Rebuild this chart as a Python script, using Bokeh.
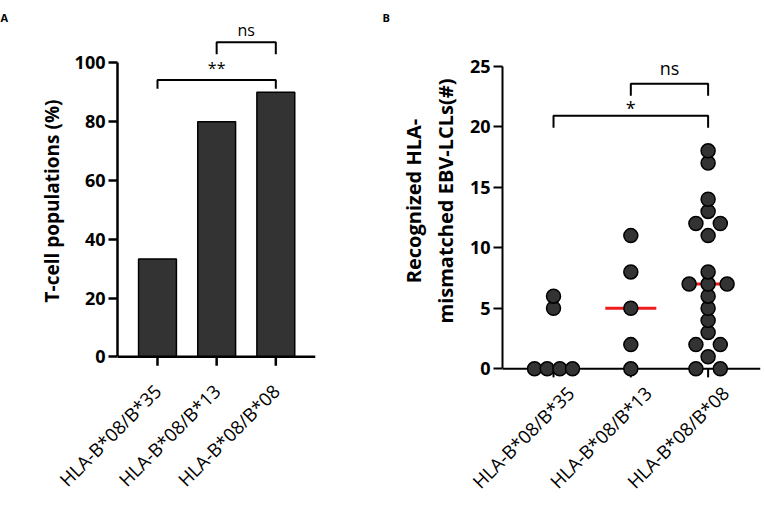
import numpy as np
from math import pi
from bokeh.plotting import figure
from bokeh.layouts import row
from bokeh.models import FixedTicker, Range1d, Span, LinearAxis
from bokeh.embed import file_html
from bokeh.resources import INLINE

# ---------------- data ----------------
categories = ["HLA-B*08/B*35", "HLA-B*08/B*13", "HLA-B*08/B*08"]
tcell_pct = [33.3, 80.0, 90.0]
lcl_b35 = [0, 0, 0, 0, 5, 6]
lcl_b13 = [0, 2, 5, 8, 11]
lcl_b08 = [0, 0, 1, 2, 2, 3, 4, 5, 6, 7, 7, 7, 8, 11, 12, 12, 13, 14, 17, 18]
ticks_a = [0, 20, 40, 60, 80, 100]
ticks_b = [0, 5, 10, 15, 20, 25]
# (from group, to group, label, bracket level, leg drop)
brackets_a = [(0, 2, "**", 94.2, 3.0), (1, 2, "ns", 107.0, 4.1)]
brackets_b = [(0, 2, "*", 20.9, 1.0), (1, 2, "ns", 23.55, 1.0)]

FONT = "Open Sans"
DARK = "#333333"
H = 505
TOP = 24          # frame top (px from figure top)
BOTTOM = 378      # frame bottom (px from figure top), same for both panels
LABEL_PX = "18.5px"


def make_fig(width, left, right, x0, ppu_x, zero_px, ppu_y, yticks, ybound,
             letter, letter_offset, label_shift_px):
    frame_w = width - left - right
    frame_h = BOTTOM - TOP
    y_end = (zero_px - TOP) / ppu_y
    x1 = x0 + frame_w / ppu_x
    p = figure(width=width, height=H, output_backend="svg",
               toolbar_location=None, x_axis_location=None,
               x_range=Range1d(x0, x1),
               y_range=Range1d(y_end - frame_h / ppu_y, y_end),
               min_border_left=left, min_border_right=right,
               min_border_top=TOP, min_border_bottom=H - BOTTOM)
    p.outline_line_color = None
    p.xgrid.grid_line_color = None
    p.ygrid.grid_line_color = None
    p.background_fill_color = "white"
    p.border_fill_color = "white"
    # panel letter
    p.title.text = letter
    p.title.align = "left"
    p.title.offset = letter_offset
    p.title.standoff = 0
    p.title.text_font = FONT
    p.title.text_font_style = "bold"
    p.title.text_font_size = "11px"
    p.title.text_color = "black"
    # y axis
    ya = p.yaxis[0]
    ya.ticker = FixedTicker(ticks=yticks)
    ya.bounds = ybound
    ya.minor_tick_line_color = None
    ya.major_tick_out = 9
    ya.major_tick_in = 0
    ya.major_label_text_font = FONT
    ya.major_label_text_font_style = "bold"
    ya.major_label_text_font_size = "18px"
    ya.major_label_text_color = "black"
    ya.major_label_standoff = 3
    ya.axis_label_text_font = FONT
    ya.axis_label_text_font_style = "bold"
    ya.axis_label_text_color = "black"
    # category axis (labels only); its range may be shifted so the labels
    # sit where the reference puts them
    shift = label_shift_px / ppu_x
    p.extra_x_ranges = {"lbl": Range1d(x0 - shift, x1 - shift)}
    xa = LinearAxis(x_range_name="lbl")
    xa.ticker = FixedTicker(ticks=[0, 1, 2])
    xa.major_label_overrides = {i: c for i, c in enumerate(categories)}
    xa.axis_line_color = None
    xa.major_tick_line_color = None
    xa.minor_tick_line_color = None
    xa.major_tick_out = 0
    xa.major_tick_in = 0
    xa.major_label_orientation = pi / 4
    xa.major_label_text_font = FONT
    xa.major_label_text_font_size = LABEL_PX
    xa.major_label_text_color = "black"
    p.add_layout(xa, "below")
    return p, xa


def add_x_baseline(p, lw, ppu_y, level):
    # x axis line at y = 0 and the category ticks hanging below it
    p.add_layout(Span(location=0, dimension="width", line_color="black",
                      line_width=lw, level=level))
    p.segment(x0=[0, 1, 2], y0=[0, 0, 0], x1=[0, 1, 2],
              y1=[-9 / ppu_y] * 3, line_color="black", line_width=lw)


def add_brackets(p, brackets, font_px, gaps, ppu_y):
    for a, b, txt, lvl, drop in brackets:
        p.line([a, a, b, b], [lvl - drop, lvl, lvl, lvl - drop],
               line_color="black", line_width=2)
        p.text([(a + b) / 2], [lvl + gaps[txt] / ppu_y], text=[txt],
               text_align="center", text_baseline="alphabetic",
               text_font={"value": FONT}, text_font_size={"value": font_px},
               text_color="black")


# ---------------- panel A ----------------
a_ppu_y = 2.948
pA, xaA = make_fig(380, 117, 65, -0.676, 59.16, 357.3, a_ppu_y,
                   ticks_a, (0, 100), "A", -117, 0)
xaA.major_label_standoff = 10
pA.yaxis.axis_line_width = 2.5
pA.yaxis.major_tick_line_width = 2.5
pA.yaxis.axis_label = "T-cell populations (%)"
pA.yaxis.axis_label_text_font_size = "19px"
pA.yaxis.axis_label_standoff = 7
pA.vbar(x=[0, 1, 2], top=tcell_pct, width=0.64, bottom=0,
        fill_color=DARK, line_color="black", line_width=1.5)
add_x_baseline(pA, 2.5, a_ppu_y, "annotation")
add_brackets(pA, brackets_a, "16px", {"ns": 12.5, "**": 12}, a_ppu_y)

# ---------------- panel B ----------------
b_ppu_x = 77.3
b_ppu_y = 12.144
pB, xaB = make_fig(385, 122, 5, -0.66, b_ppu_x, 369.3, b_ppu_y,
                   ticks_b, (0, 25), "B", -120, 17)
xaB.major_label_standoff = 12
pB.yaxis.axis_line_width = 2
pB.yaxis.major_tick_line_width = 2
pB.yaxis.axis_label = "Recognized HLA-\nmismatched EBV-LCLs(#)"
pB.yaxis.axis_label_text_font_size = "20px"
pB.yaxis.axis_label_standoff = 8
add_x_baseline(pB, 2, b_ppu_y, "underlay")


def swarm_x(center, vals, ppu_x, max_sep_px=24.4, span_px=38.0):
    xs = []
    seen = {}
    counts = {v: vals.count(v) for v in set(vals)}
    for v in vals:
        n = counts[v]
        i = seen.get(v, 0)
        seen[v] = i + 1
        sep = 0 if n == 1 else min(max_sep_px, span_px / (n - 1))
        xs.append(center + (i - (n - 1) / 2) * sep / ppu_x)
    return xs


groups = [lcl_b35, lcl_b13, lcl_b08]
for gi, vals in enumerate(groups):
    med = float(np.median(vals))
    pB.line([gi - 0.33, gi + 0.33], [med, med], line_color="#ee1c1c",
            line_width=3)
for gi, vals in enumerate(groups):
    pB.scatter(swarm_x(gi, vals, b_ppu_x), vals, marker="circle", size=14,
               fill_color=DARK, line_color="black", line_width=1.5)
add_brackets(pB, brackets_b, "18px", {"ns": 16, "*": 8}, b_ppu_y)

layout = row(pA, pB)
open("out.html", "w").write(file_html(layout, INLINE))
